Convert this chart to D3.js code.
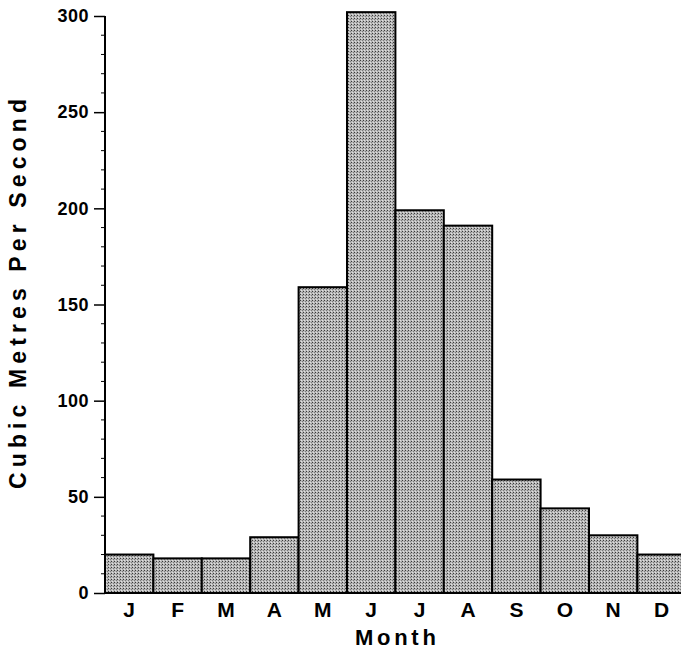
<!DOCTYPE html>
<html><head><meta charset="utf-8">
<script src="https://cdn.jsdelivr.net/npm/d3@7"></script>
<style>body{margin:0;background:#fff}svg{display:block}</style>
</head><body>
<svg id="c" width="681" height="666"></svg>
<script>
const months = ["J","F","M","A","M","J","J","A","S","O","N","D"];
const flow = [20, 18, 18, 29, 159, 302, 199, 191, 59, 44, 30, 20];
const yTicks = [0, 50, 100, 150, 200, 250, 300];
const yTitle = "Cubic Metres Per Second";
const xTitle = "Month";

const svg = d3.select("#c");
const font = "'Liberation Sans', Arial, Helvetica, sans-serif";
const x0 = 105, bw = 48.4;
const x = d3.scaleBand().domain(d3.range(months.length)).range([x0, x0 + bw * months.length]).padding(0);
const y = d3.scaleLinear().domain([0, 300]).range([593, 16]);

const defs = svg.append("defs");
const pat = defs.append("pattern").attr("id", "stip").attr("width", 3).attr("height", 3).attr("patternUnits", "userSpaceOnUse");
pat.append("rect").attr("width", 3).attr("height", 3).attr("fill", "#b8b8b8");
pat.append("rect").attr("x", 0).attr("y", 0).attr("width", 1).attr("height", 1).attr("fill", "#3a3a3a");
pat.append("rect").attr("x", 2).attr("y", 1).attr("width", 1).attr("height", 1).attr("fill", "#7a7a7a");
pat.append("rect").attr("x", 1).attr("y", 2).attr("width", 1).attr("height", 1).attr("fill", "#e0e0e0");

// bars
svg.append("g").selectAll("rect").data(flow).join("rect")
  .attr("x", (d, i) => x(i))
  .attr("y", d => y(d))
  .attr("width", x.bandwidth())
  .attr("height", d => y(0) - y(d))
  .attr("fill", "url(#stip)")
  .attr("stroke", "#000")
  .attr("stroke-width", 2);

// y axis
const yAxis = d3.axisLeft(y).tickValues(yTicks).tickSize(11).tickPadding(5).tickFormat(d3.format("d"));
const ga = svg.append("g").attr("transform", `translate(${x0},0)`).call(yAxis);
ga.select(".domain").attr("stroke", "#000").attr("stroke-width", 2).attr("d", `M0,${y(0)+1}V${y(300)}`);
ga.selectAll(".tick line").attr("stroke", "#000").attr("stroke-width", 1.5);
ga.selectAll(".tick text").attr("font-family", font).attr("font-weight", "bold").attr("font-size", 18)
  .attr("letter-spacing", 0.5).attr("fill", "#000");

// minor ticks
const minor = d3.range(0, 301, 10).filter(v => v % 50 !== 0);
svg.append("g").selectAll("line").data(minor).join("line")
  .attr("x1", x0 - 4).attr("x2", x0).attr("y1", d => y(d)).attr("y2", d => y(d))
  .attr("stroke", "#000").attr("stroke-width", 1);

// x baseline
svg.append("line").attr("x1", x0).attr("x2", 681).attr("y1", y(0)).attr("y2", y(0))
  .attr("stroke", "#000").attr("stroke-width", 2);

// month labels
svg.append("g").selectAll("text").data(months).join("text")
  .attr("x", (d, i) => x(i) + x.bandwidth() / 2)
  .attr("y", 617)
  .attr("text-anchor", "middle")
  .attr("font-family", font).attr("font-weight", "bold").attr("font-size", 21)
  .text(d => d);

svg.append("text").attr("x", x0 + bw * 6).attr("y", 645).attr("text-anchor", "middle")
  .attr("font-family", font).attr("font-weight", "bold").attr("font-size", 22)
  .attr("textLength", 81).attr("lengthAdjust", "spacing").text(xTitle);

svg.append("text").attr("transform", "translate(26,294) rotate(-90)").attr("text-anchor", "middle")
  .attr("font-family", font).attr("font-weight", "bold").attr("font-size", 23)
  .attr("textLength", 390).attr("lengthAdjust", "spacing").text(yTitle);
</script>
</body></html>
